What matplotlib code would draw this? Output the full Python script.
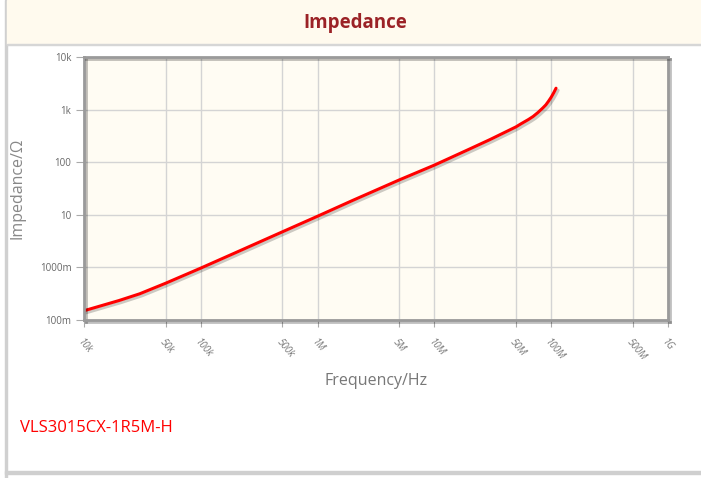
import numpy as np
import matplotlib
matplotlib.use("Agg")
from matplotlib import pyplot as plt
import matplotlib.patheffects as pe
from matplotlib.patches import Rectangle

# values
freq_hz = [1e4, 2e4, 3e4, 5e4, 1e5, 2e5, 5e5, 1e6, 2e6, 5e6, 1e7, 2e7,
           3e7, 5e7, 5.5e7, 6.4e7, 7e7, 7.7e7, 8.5e7, 9e7, 9.5e7, 1e8,
           1.05e8, 1.1e8]
impedance_ohm = [0.15, 0.235, 0.315, 0.5, 0.97, 1.92, 4.75, 9.4, 18.8,
                 46, 88, 178, 270, 470, 535, 650, 740, 880, 1080, 1230,
                 1450, 1720, 2080, 2550]

x_ticks = [1e4, 5e4, 1e5, 5e5, 1e6, 5e6, 1e7, 5e7, 1e8, 5e8, 1e9]
x_labels = ["10k", "50k", "100k", "500k", "1M", "5M", "10M", "50M",
            "100M", "500M", "1G"]
y_ticks = [0.1, 1, 10, 100, 1000, 10000]
y_labels = ["100m", "1000m", "10", "100", "1k", "10k"]
part_name = "VLS3015CX-1R5M-H"

plt.rcParams['font.family'] = ['Open Sans', 'DejaVu Sans']

W, H = 701, 478
fig = plt.figure(figsize=(W / 100, H / 100), dpi=100)
fig.patch.set_facecolor("white")

# card outline / shadow and title band
fig.patches.append(Rectangle((5 / W, 0), 2 / W, 1, transform=fig.transFigure,
                             color="#d0d0d0", zorder=0))
fig.patches.append(Rectangle((5 / W, 4 / H), 1 - 5 / W, 3 / H,
                             transform=fig.transFigure, color="#cfcfcf", zorder=0))
fig.patches.append(Rectangle((7 / W, 1 - 44 / H), 1 - 7 / W, 44 / H,
                             transform=fig.transFigure, color="#fffaee", zorder=0))
fig.patches.append(Rectangle((7 / W, 1 - 45 / H), 1 - 7 / W, 1.5 / H,
                             transform=fig.transFigure, color="#d6d6d6", zorder=0))
fig.text(355 / W, 1 - 23 / H, "Impedance", ha="center", va="center",
         fontsize=13.5, fontweight="bold", color="#9b2226")

left, right, top, bottom = 84, 668, 57, 320
ax = fig.add_axes([left / W, 1 - bottom / H, (right - left) / W, (bottom - top) / H])
ax.set_facecolor("#fffcf3")
ax.set_xscale("log")
ax.set_yscale("log")
ax.set_xlim(1e4, 1e9)
ax.set_ylim(0.1, 10000)

ax.set_xticks(x_ticks)
ax.set_xticklabels(x_labels, rotation=-50, ha="left", va="top",
                   rotation_mode="anchor", fontsize=7, color="#777777",
                   fontstyle="italic")
ax.set_yticks(y_ticks)
ax.set_yticklabels(y_labels, fontsize=7, color="#666666")
ax.minorticks_off()
ax.tick_params(axis="x", length=5, color="#aaaaaa", pad=7)
ax.tick_params(axis="y", length=6, color="#aaaaaa", pad=3)
ax.grid(True, color="#d4d4d4", linewidth=1)
ax.set_axisbelow(True)

for s in ax.spines.values():
    s.set_color("#9a9a9a")
    s.set_linewidth(2)
    s.set_path_effects([pe.SimpleLineShadow(offset=(1.5, -1.5), alpha=0.25),
                        pe.Normal()])

ax.plot(freq_hz, impedance_ohm, color="#ff0000", linewidth=2.2,
        solid_capstyle="round", solid_joinstyle="round",
        path_effects=[pe.SimpleLineShadow(offset=(1.5, -1.5), alpha=0.2),
                      pe.Normal()])

ax.set_xlabel("Frequency/Hz", fontsize=11.5, color="#777777", labelpad=8)
ax.set_ylabel("Impedance/Ω", fontsize=11.5, color="#888888", labelpad=10)

fig.text(20 / W, 1 - 428 / H, part_name, ha="left", va="center",
         fontsize=12, color="#ff0000")

fig.savefig("out.png", dpi=100)
